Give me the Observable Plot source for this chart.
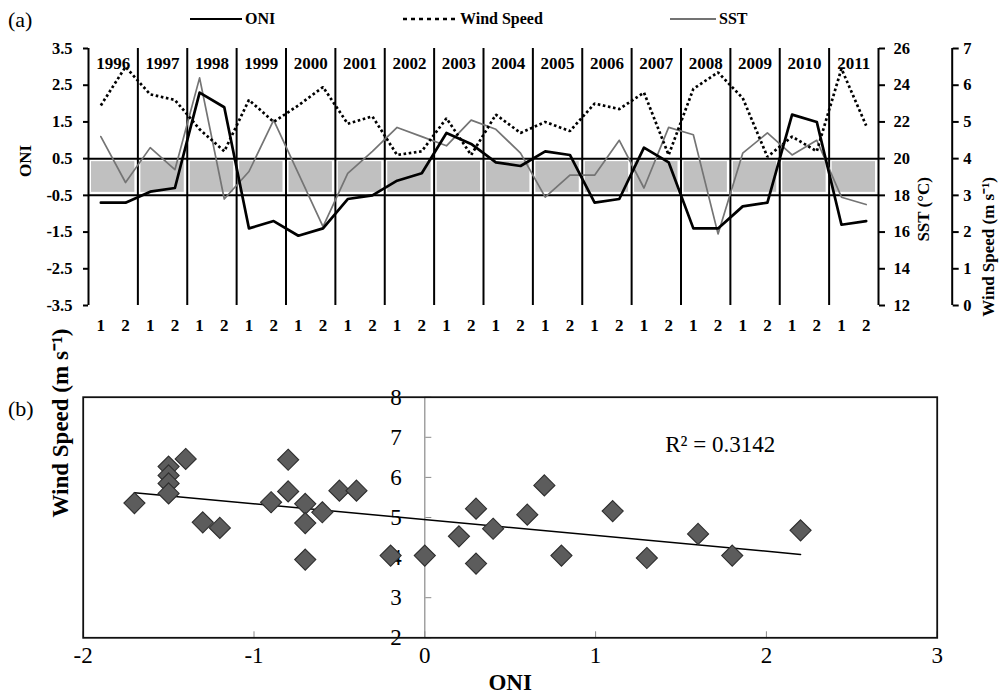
<!DOCTYPE html>
<html>
<head>
<meta charset="utf-8">
<script src="https://cdn.jsdelivr.net/npm/d3@7"></script>
<script src="https://cdn.jsdelivr.net/npm/@observablehq/plot@0.6"></script>
<style>
  body { margin: 0; background: #fff; }
  #wrap { position: relative; width: 999px; height: 696px; overflow: hidden; background: #fff;
          font-family: "Liberation Serif", "Times New Roman", serif; color: #000; }
  #top { position: absolute; left: 0; top: 0; }
  #bottom { position: absolute; left: 0; top: 360px; }
  .panel { position: absolute; font-size: 22px; line-height: 22px; }
  .leg { position: absolute; top: 9px; height: 20px; display: flex; align-items: center;
         font-weight: bold; font-size: 16px; }
  .leg svg { display: block; margin-right: 3px; }
</style>
</head>
<body>
<div id="wrap">
  <div id="top"></div>
  <div id="bottom"></div>
  <div class="panel" style="left:8px;top:9px;">(a)</div>
  <div class="panel" style="left:8px;top:398px;">(b)</div>
  <div class="leg" style="left:190px;"><svg width="52" height="20"><line x1="0" x2="52" y1="10" y2="10" stroke="#000" stroke-width="2.2"/></svg>ONI</div>
  <div class="leg" style="left:403px;"><svg width="54" height="20"><line x1="0" x2="52" y1="10" y2="10" stroke="#000" stroke-width="2.6" stroke-dasharray="4,4"/></svg>Wind Speed</div>
  <div class="leg" style="left:670px;"><svg width="46" height="20"><line x1="0" x2="46" y1="10" y2="10" stroke="#444" stroke-width="1.6"/></svg>SST</div>
</div>
<script>
// ---------- Data ----------
const years = [1996, 1997, 1998, 1999, 2000, 2001, 2002, 2003, 2004, 2005, 2006, 2007, 2008, 2009, 2010, 2011];
const halves = ["1", "2"];
// semester values, 1996-1 ... 2011-2
const oni  = [-0.7, -0.7, -0.4, -0.3, 2.3, 1.9, -1.4, -1.2, -1.6, -1.4, -0.6, -0.5, -0.1, 0.1, 1.2, 0.9,
               0.4, 0.3, 0.7, 0.6, -0.7, -0.6, 0.8, 0.4, -1.4, -1.4, -0.8, -0.7, 1.7, 1.5, -1.3, -1.2];
const wind = [5.45, 6.5, 5.75, 5.6, 4.8, 4.2, 5.6, 5.0, 5.45, 5.95, 4.95, 5.15, 4.1, 4.2, 5.1, 4.1,
              5.2, 4.7, 5.0, 4.75, 5.5, 5.35, 5.8, 4.1, 5.9, 6.35, 5.65, 4.05, 4.6, 4.2, 6.45, 4.9];
const sst  = [21.2, 18.7, 20.6, 19.4, 24.4, 17.8, 19.3, 22.1, 19.2, 16.3, 19.2, 20.4, 21.7, 21.2, 20.7, 22.1,
              21.6, 20.3, 17.9, 19.1, 19.1, 21.0, 18.4, 21.7, 21.3, 15.9, 20.3, 21.4, 20.2, 21.0, 17.9, 17.5];
const neutralBand = [-0.5, 0.5];
const oniTicks  = [-3.5, -2.5, -1.5, -0.5, 0.5, 1.5, 2.5, 3.5];
const sstTicks  = [12, 14, 16, 18, 20, 22, 24, 26];
const windTicks = [0, 1, 2, 3, 4, 5, 6, 7];

// scatter panel (b)
const scatterOni  = [-1.7, -1.5, -1.5, -1.5, -1.5, -1.4, -1.3, -1.2, -0.9, -0.8, -0.8, -0.7, -0.7, -0.7, -0.6, -0.5,
                     -0.4, -0.2, 0.0, 0.2, 0.3, 0.3, 0.4, 0.6, 0.7, 0.8, 1.1, 1.3, 1.6, 1.8, 2.2];
const scatterWind = [5.36, 6.27, 6.05, 5.85, 5.6, 6.46, 4.88, 4.74, 5.38, 6.44, 5.65, 5.34, 4.86, 3.95, 5.13, 5.67,
                     5.67, 4.05, 4.05, 4.53, 5.22, 3.85, 4.72, 5.07, 5.8, 4.05, 5.16, 3.99, 4.59, 4.05, 4.68];
const trendOni  = [-1.7, 2.2];
const trendWind = [5.62, 4.08];
const r2Label = "R² = 0.3142";
const bXTicks = [-2, -1, 0, 1, 2, 3];
const bYTicks = [2, 3, 4, 5, 6, 7, 8];

// ---------- Derived tables ----------
const rows = years.flatMap((y, yi) => halves.map((h, hi) => {
  const i = yi * 2 + hi;
  return {year: y, half: h, pos: i + 0.5, oni: oni[i], wind: wind[i], sst: sst[i]};
}));
const sstToOni = s => (s - 19) / 2;     // right axis 1: 20 °C ↔ 0.5, 2 °C per ONI unit
const windToOni = w => w - 3.5;         // right axis 2: 4 m/s ↔ 0.5
const scatter = scatterOni.map((o, i) => ({oni: o, wind: scatterWind[i]}));
const trend = trendOni.map((o, i) => ({oni: o, wind: trendWind[i]}));
const fmtInt = d => String(Math.round(d)).replace("\u2212", "-");

const F = '"Liberation Serif", "Times New Roman", serif';

// ---------- Panel (a) ----------
const topPlot = Plot.plot({
  width: 999, height: 345,
  marginLeft: 88, marginRight: 121, marginTop: 48, marginBottom: 40,
  style: {fontFamily: F, fontWeight: "bold", color: "#000", background: "transparent", overflow: "visible"},
  x: {domain: [0, years.length * 2], axis: null},
  y: {domain: [-3.5, 3.5], axis: null},
  marks: [
    Plot.rect(years, {x1: (d, i) => 2 * i, x2: (d, i) => 2 * i + 2, y1: neutralBand[0], y2: neutralBand[1],
                      fill: "#c0c0c0", insetLeft: 3, insetRight: 3, insetTop: 3, insetBottom: 3}),
    Plot.ruleY(neutralBand, {stroke: "#000", strokeWidth: 2}),
    Plot.ruleX(years.slice(1), {x: (d, i) => 2 * (i + 1), stroke: "#000", strokeWidth: 2}),
    Plot.ruleX([0, years.length * 2], {stroke: "#000", strokeWidth: 2}),
    Plot.ruleX([years.length * 2], {stroke: "#000", strokeWidth: 2, dx: 73.7}),
    Plot.line(rows, {x: "pos", y: d => sstToOni(d.sst), stroke: "#747474", strokeWidth: 1.7}),
    Plot.line(rows, {x: "pos", y: d => windToOni(d.wind), stroke: "#000", strokeWidth: 2.7,
                     strokeDasharray: "2.6,2.6", strokeLinecap: "butt", strokeLinejoin: "miter"}),
    Plot.line(rows, {x: "pos", y: "oni", stroke: "#000", strokeWidth: 2.7}),
    Plot.text(years, {x: (d, i) => 2 * i + 1, text: d => String(d), frameAnchor: "top", dy: 8,
                      fontSize: 17, fontWeight: "bold"}),
    Plot.text(rows, {x: "pos", text: "half", frameAnchor: "bottom", dy: 25, fontSize: 17, fontWeight: "bold"}),
    Plot.axisY(oniTicks, {anchor: "left", tickSize: 5, tickPadding: 11, strokeWidth: 2,
                          tickFormat: d => d.toFixed(1), fontSize: 16.5, fontWeight: "bold", label: null}),
    Plot.axisY(sstTicks.map(sstToOni), {anchor: "right", tickSize: 6, tickPadding: 9, strokeWidth: 2,
                          tickFormat: d => String(Math.round(19 + 2 * d)), fontSize: 16.5, fontWeight: "bold", label: null}),
    Plot.axisY(windTicks.map(windToOni), {anchor: "right", dx: 73.7, tickSize: 6, tickPadding: 5, strokeWidth: 2,
                          tickFormat: d => String(Math.round(d + 3.5)), fontSize: 16.5, fontWeight: "bold", label: null}),
    Plot.text(["ONI"], {frameAnchor: "left", dx: -63, rotate: -90, fontSize: 17, fontWeight: "bold"}),
    Plot.text(["SST (°C)"], {frameAnchor: "right", dx: 45, rotate: -90, fontSize: 17, fontWeight: "bold"}),
    Plot.text(["Wind Speed (m s⁻¹)"], {frameAnchor: "right", dx: 110, rotate: -90, fontSize: 17, fontWeight: "bold"})
  ]
});
document.getElementById("top").appendChild(topPlot);

// ---------- Panel (b) ----------
const bottomPlot = Plot.plot({
  width: 999, height: 336,
  marginLeft: 82.7, marginRight: 62.3, marginTop: 36.7, marginBottom: 58.7,
  style: {fontFamily: F, color: "#000", background: "transparent", overflow: "visible"},
  x: {domain: [-2, 3], axis: null},
  y: {domain: [2, 8], axis: null},
  marks: [
    Plot.ruleX([0], {stroke: "#8a8a8a", strokeWidth: 1.2}),
    Plot.axisY(bYTicks, {x: 0, anchor: "right", tickSize: 6, fill: "none", stroke: "#8a8a8a", label: null}),
    Plot.axisY(bYTicks, {x: 0, anchor: "left", tickSize: 0, tickPadding: 23, fontSize: 23, tickFormat: fmtInt, label: null}),
    Plot.axisX(bXTicks, {y: 2, anchor: "top", tickSize: 7, fill: "none", stroke: "#8a8a8a", label: null}),
    Plot.axisX(bXTicks, {anchor: "bottom", tickSize: 0, tickPadding: 9, fontSize: 23, tickFormat: fmtInt, label: null}),
    Plot.frame({stroke: "#111", strokeWidth: 1.8}),
    Plot.line(trend, {x: "oni", y: "wind", stroke: "#000", strokeWidth: 1.5}),
    Plot.dot(scatter, {x: "oni", y: "wind", symbol: "diamond2", r: 9.5, fill: "#5c5c5c", stroke: "#2e2e2e", strokeWidth: 1.1}),
    Plot.text([r2Label], {frameAnchor: "top-right", dx: -162, dy: 38, fontSize: 23}),
    Plot.text(["Wind Speed (m s⁻¹)"], {frameAnchor: "left", dx: -23, rotate: -90, fontSize: 23, fontWeight: "bold"}),
    Plot.text(["ONI"], {frameAnchor: "bottom", dy: 52, fontSize: 23, fontWeight: "bold"})
  ]
});
document.getElementById("bottom").appendChild(bottomPlot);
</script>
</body>
</html>
